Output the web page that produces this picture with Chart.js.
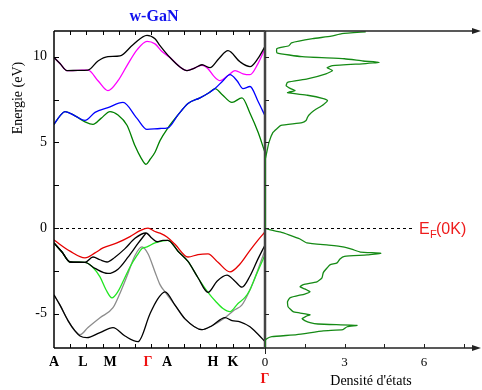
<!DOCTYPE html>
<html>
<head>
<meta charset="utf-8">
<script src="https://cdn.jsdelivr.net/npm/chart.js@4.4.0/dist/chart.umd.min.js"></script>
<style>
  html, body { margin: 0; padding: 0; background: #fff; }
  #wrap { position: relative; width: 482px; height: 390px; }
  #bands { position: absolute; left: 0; top: 0; }
  #dos { position: absolute; left: 255px; top: 0; }
</style>
</head>
<body>
<div id="wrap">
  <canvas id="bands" width="270" height="390"></canvas>
  <canvas id="dos" width="227" height="390"></canvas>
</div>
<script>
// k-path positions of the high-symmetry points and their labels
const kSym = [0, 29, 56, 94, 113, 159, 179, 211];
const kLabels = ['A', 'L', 'M', 'Γ', 'A', 'H', 'K', ['', 'Γ']];
const energyTicks = [-5, -2.5, 0, 2.5, 5, 7.5, 10];
const dosTicks = [0, 1.5, 3, 4.5, 6, 7.5];

// bands: [k, energy in eV]
const bandC4 = [[0,9.96],[6,9.6],[13,9.19],[24,9.2],[34,9.22],[44,9.75],[54,10.0],[66,10.05],[79,10.7],[93,11.25],[101,11.05],[106,10.65],[116,9.95],[126,9.4],[133,9.19],[141,9.35],[148,9.53],[156,9.36],[165,9.9],[174,10.35],[186,9.7],[196,9.42],[204,9.9],[211,10.6]];
const bandC3 = [[0,9.96],[6,9.6],[13,9.19],[24,9.2],[34,9.22],[44,8.6],[54,8.02],[64,8.6],[73,9.48],[83,10.4],[93,10.9],[101,10.75],[108,10.3],[116,9.95],[126,9.4],[133,9.19],[141,9.35],[148,9.5],[154,9.3],[160,8.85],[166,8.6],[174,8.9],[181,9.19],[189,9.0],[196,8.95],[204,9.6],[211,10.47]];
const bandC2 = [[0,6.05],[6,6.55],[11,6.8],[21,6.55],[31,6.28],[41,6.75],[54,7.03],[69,7.33],[83,6.4],[93,5.76],[106,5.81],[114,5.85],[124,6.6],[134,7.27],[146,7.6],[155,7.9],[161,8.14],[169,8.6],[176,8.95],[183,8.6],[189,8.14],[196,8.26],[204,7.4],[211,6.55]];
const bandC1 = [[0,6.05],[6,6.55],[11,6.8],[21,6.55],[31,6.2],[39,6.05],[47,6.4],[56,6.8],[64,6.6],[73,6.0],[81,4.8],[87,4.1],[92,3.72],[96,4.0],[101,4.42],[106,5.1],[114,5.85],[124,6.6],[134,7.27],[146,7.6],[155,7.9],[161,8.14],[168,7.8],[178,7.33],[188,7.6],[196,6.7],[204,5.6],[211,4.4]];

const bandV1 = [[0,-0.7],[16,-1.35],[31,-1.74],[41,-1.45],[49,-1.16],[63,-0.87],[76,-0.5],[86,-0.15],[94,0.0],[101,-0.2],[106,-0.3],[113,-0.52],[121,-0.95],[134,-1.69],[144,-1.55],[154,-1.51],[164,-2.0],[176,-2.56],[186,-2.1],[196,-1.3],[204,-0.7],[211,-0.23]];
const bandV2 = [[0,-0.87],[8,-1.4],[16,-1.98],[31,-2.0],[39,-1.69],[46,-1.85],[53,-1.98],[61,-1.7],[71,-1.2],[81,-0.6],[92,-0.29],[98,-0.6],[103,-0.8],[109,-0.72],[114,-0.72],[124,-1.35],[134,-1.95],[144,-2.9],[154,-3.75],[163,-3.1],[173,-2.75],[181,-3.1],[188,-3.45],[196,-2.8],[204,-1.8],[211,-0.99]];
const bandV3 = [[0,-0.87],[8,-1.4],[16,-1.98],[31,-2.0],[41,-2.35],[54,-2.65],[64,-2.4],[74,-1.7],[84,-0.9],[92,-0.29]];
const bandV4 = [[0,-0.87],[8,-1.4],[16,-1.98],[31,-2.0],[39,-2.3],[46,-2.85],[52,-3.6],[58,-4.07],[64,-3.7],[70,-3.0],[76,-2.27],[83,-1.6],[88,-1.2],[93,-1.1],[101,-0.87],[109,-0.75],[114,-0.72],[124,-1.35],[134,-1.95],[144,-2.9],[154,-3.75],[162,-4.3],[169,-4.7],[176,-4.88],[184,-4.4],[191,-4.05],[196,-3.6],[201,-2.9],[211,-1.57]];
const bandV5 = [[0,-3.9],[6,-4.5],[14,-5.4],[21,-6.0],[26,-6.22],[34,-5.8],[46,-5.23],[59,-4.65],[66,-3.8],[73,-2.8],[81,-1.6],[88,-1.1],[94,-1.5],[101,-2.56],[106,-3.3],[111,-3.72],[121,-4.5],[131,-5.3],[148,-5.93],[158,-5.7],[171,-5.23],[180,-4.8],[188,-4.48],[196,-3.6],[201,-2.9],[206,-2.1],[211,-1.28]];
const bandV6 = [[0,-3.9],[6,-4.5],[14,-5.4],[21,-6.0],[26,-6.3],[33,-6.4],[46,-6.1],[59,-5.81],[71,-6.3],[84,-6.63],[96,-5.0],[103,-4.2],[111,-3.72],[121,-4.5],[131,-5.3],[148,-5.93],[158,-5.7],[171,-5.23],[178,-5.4],[186,-5.47],[196,-5.76],[204,-6.2],[211,-6.63]];

// density of states: energy (eV) and value (states)
const dosEnergy = [-7.0,-6.6,-6.45,-6.34,-6.22,-6.0,-5.93,-5.76,-5.68,-5.6,-5.52,-5.4,-5.29,-5.15,-5.06,-4.95,-4.88,-4.59,-4.3,-4.07,-3.85,-3.72,-3.55,-3.43,-3.3,-3.14,-2.91,-2.6,-2.33,-2.15,-2.03,-1.8,-1.65,-1.57,-1.47,-1.4,-1.25,-1.1,-1.0,-0.87,-0.64,-0.4,-0.23,-0.1,0.0,
  3.9,4.3,5.0,5.58,5.8,5.99,6.15,6.28,6.45,6.6,6.86,7.2,7.44,7.56,7.75,7.9,8.02,8.15,8.3,8.5,8.7,9.0,9.19,9.36,9.48,9.6,9.67,9.75,9.88,10.0,10.23,10.47,10.64,10.81,11.05,11.2,11.35,11.45];
const dosValue = [0,0,0.08,0.26,1.2,2.2,2.94,3.1,3.47,2.0,1.7,1.5,1.4,1.55,1.7,1.3,1.06,0.87,0.85,0.94,1.5,1.7,1.5,1.32,1.45,1.96,2.15,2.2,2.34,2.45,2.72,2.83,3.0,3.85,4.37,3.6,3.3,2.94,2.4,1.58,1.32,0.9,0.57,0.2,0,
  0,0.05,0.15,0.3,0.45,0.6,1.4,1.55,1.6,1.66,1.85,2.2,2.36,2.2,1.6,0.85,1.13,0.95,0.8,0.85,1.6,2.3,2.55,2.34,2.55,3.8,4.3,3.7,3.0,1.4,0.45,0.45,0.9,1.0,1.8,2.5,2.9,3.8];

const serif = 'Liberation Serif';
const sans = 'Liberation Sans';
Chart.defaults.font.family = serif;
Chart.defaults.color = '#000';

function band(points, color, width) {
  return {
    data: points.map(p => ({ x: p[0], y: p[1] })),
    borderColor: color,
    borderWidth: width || 1.3,
    pointRadius: 0,
    fill: false,
    cubicInterpolationMode: 'monotone'
  };
}

function line(ctx, x1, y1, x2, y2) {
  ctx.beginPath();
  ctx.moveTo(x1, y1);
  ctx.lineTo(x2, y2);
  ctx.stroke();
}

// keep the plot box fixed: no extra room for edge tick labels
function fixBox(h) {
  return s => {
    s.height = h;
    s.paddingLeft = 0;
    s.paddingRight = 0;
  };
}

// frame, ticks, dashed Fermi line and free texts of the band panel
const bandsDeco = {
  id: 'bandsDeco',
  beforeDatasetsDraw(chart) {
    const { ctx, chartArea: a, scales: { y } } = chart;
    const y0 = Math.round(y.getPixelForValue(0)) + 0.5;
    ctx.save();
    ctx.strokeStyle = '#000';
    ctx.lineWidth = 1;
    ctx.setLineDash([3, 3]);
    line(ctx, a.left, y0, a.right, y0);
    ctx.restore();
  },
  afterDatasetsDraw(chart) {
    const { ctx, chartArea: a, scales: { y } } = chart;
    ctx.save();
    ctx.strokeStyle = '#000';
    ctx.lineWidth = 1.5;
    line(ctx, a.left, a.top, a.left, a.bottom);
    line(ctx, a.left, a.top, a.right, a.top);
    line(ctx, a.left, a.bottom, a.right, a.bottom);
    ctx.lineWidth = 1;
    energyTicks.forEach(v => {
      const py = Math.round(y.getPixelForValue(v)) + 0.5;
      line(ctx, a.left, py, a.left + 5, py);
    });
    for (let i = 1; i < 13; i++) {
      const px = Math.round(a.left + i * (a.right - a.left) / 13) + 0.5;
      line(ctx, px, a.top, px, a.top + 4);
      line(ctx, px, a.bottom, px, a.bottom - 4);
    }
    ctx.fillStyle = '#000';
    ctx.font = '14px ' + serif;
    ctx.textAlign = 'center';
    ctx.textBaseline = 'middle';
    ctx.translate(18.5, 98);
    ctx.rotate(-Math.PI / 2);
    ctx.fillText('Energie (eV)', 0, 0);
    ctx.restore();

    ctx.save();
    ctx.fillStyle = '#1010ee';
    ctx.font = 'bold 16px ' + serif;
    ctx.textAlign = 'center';
    ctx.textBaseline = 'middle';
    ctx.fillText('w-GaN', 154, 17);
    ctx.restore();
  }
};

// shared axis, arrows, Fermi line and E_F label of the DOS panel
const dosDeco = {
  id: 'dosDeco',
  beforeDatasetsDraw(chart) {
    const { ctx, chartArea: a, scales: { x, y } } = chart;
    ctx.save();
    const y0 = Math.round(y.getPixelForValue(0)) + 0.5;
    ctx.strokeStyle = '#000';
    ctx.lineWidth = 1;
    ctx.setLineDash([3, 3]);
    line(ctx, a.left, y0, x.getPixelForValue(5.55), y0);
    ctx.setLineDash([]);
    ctx.strokeStyle = '#444';
    ctx.lineWidth = 2.5;
    line(ctx, a.left, a.top, a.left, a.bottom);
    ctx.restore();
  },
  afterDatasetsDraw(chart) {
    const { ctx, chartArea: a, scales: { x, y } } = chart;
    const w = chart.width;
    ctx.save();
    ctx.strokeStyle = '#222';
    ctx.fillStyle = '#222';
    ctx.lineWidth = 1.5;
    [a.top, a.bottom].forEach(py => {
      line(ctx, a.left, py, w - 9, py);
      ctx.beginPath();
      ctx.moveTo(w - 10, py - 3);
      ctx.lineTo(w - 1, py);
      ctx.lineTo(w - 10, py + 3);
      ctx.closePath();
      ctx.fill();
    });
    ctx.lineWidth = 1;
    energyTicks.forEach(v => {
      const py = Math.round(y.getPixelForValue(v)) + 0.5;
      line(ctx, a.left, py, a.left + 4, py);
    });
    dosTicks.forEach(v => {
      const px = Math.round(x.getPixelForValue(v)) + 0.5;
      if (v === 0) line(ctx, px, a.bottom, px, a.bottom + 6);
      else line(ctx, px, a.bottom, px, a.bottom - 4);
    });
    // E_F(0K) label
    const yF = y.getPixelForValue(0);
    ctx.fillStyle = '#ee1c1c';
    ctx.textBaseline = 'alphabetic';
    ctx.textAlign = 'left';
    ctx.font = '16px ' + sans;
    ctx.fillText('E', 164, yF + 6);
    ctx.font = '11px ' + sans;
    ctx.fillText('F', 175, yF + 10);
    ctx.font = '16px ' + sans;
    ctx.fillText('(0K)', 181, yF + 6);
    ctx.restore();
  }
};

new Chart(document.getElementById('bands'), {
  type: 'line',
  data: {
    datasets: [
      band(bandC2, '#0000ff'),
      band(bandC1, '#008000'),
      band(bandC4, '#000000'),
      band(bandC3, '#ff00ff'),
      band(bandV1, '#e60000'),
      band(bandV2, '#000000'),
      band(bandV3, '#000000'),
      band(bandV4, '#22e622'),
      band(bandV6, '#000000'),
      band(bandV5, '#8c8c8c')
    ]
  },
  options: {
    responsive: false,
    animation: false,
    layout: { padding: { left: 0, top: 31, right: 5, bottom: 0 } },
    plugins: { legend: { display: false }, tooltip: { enabled: false } },
    scales: {
      x: {
        type: 'linear',
        min: 0,
        max: 211,
        afterFit: fixBox(42),
        afterBuildTicks: s => { s.ticks = kSym.map(v => ({ value: v })); },
        grid: { display: false, drawTicks: false },
        border: { display: false },
        ticks: {
          autoSkip: false,
          maxRotation: 0,
          padding: 6,
          font: { family: serif, size: 14, weight: 'bold' },
          color: c => (kLabels[c.index] === 'Γ' || Array.isArray(kLabels[c.index])) ? '#ee1111' : '#000',
          callback: (v, i) => kLabels[i]
        }
      },
      y: {
        type: 'linear',
        min: -7,
        max: 11.5,
        afterFit: s => { s.width = 54; s.paddingTop = 0; s.paddingBottom = 0; },
        afterBuildTicks: s => { s.ticks = energyTicks.map(v => ({ value: v })); },
        grid: { display: false, drawTicks: false },
        border: { display: false },
        ticks: {
          autoSkip: false,
          padding: 7,
          font: { family: serif, size: 14 },
          color: '#000',
          callback: v => (v % 5 === 0 ? String(v) : '')
        }
      }
    }
  },
  plugins: [bandsDeco]
});

new Chart(document.getElementById('dos'), {
  type: 'line',
  data: {
    datasets: [{
      data: dosEnergy.map((e, i) => ({ x: dosValue[i], y: e })),
      borderColor: '#158a15',
      borderWidth: 1.3,
      pointRadius: 0,
      fill: false,
      tension: 0.15
    }]
  },
  options: {
    responsive: false,
    animation: false,
    layout: { padding: { left: 10, top: 31, right: 5, bottom: 0 } },
    plugins: { legend: { display: false }, tooltip: { enabled: false } },
    scales: {
      x: {
        type: 'linear',
        min: 0,
        max: 8,
        afterFit: fixBox(42),
        afterBuildTicks: s => { s.ticks = dosTicks.map(v => ({ value: v })); },
        grid: { display: false, drawTicks: false },
        border: { display: false },
        ticks: {
          autoSkip: false,
          maxRotation: 0,
          padding: 7,
          font: { family: serif, size: 13 },
          color: '#000',
          callback: v => (v % 3 === 0 ? String(v) : '')
        },
        title: {
          display: true,
          text: "Densité d'états",
          font: { family: serif, size: 14 },
          color: '#000',
          padding: 0
        }
      },
      y: {
        type: 'linear',
        display: false,
        min: -7,
        max: 11.5
      }
    }
  },
  plugins: [dosDeco]
});
</script>
</body>
</html>
